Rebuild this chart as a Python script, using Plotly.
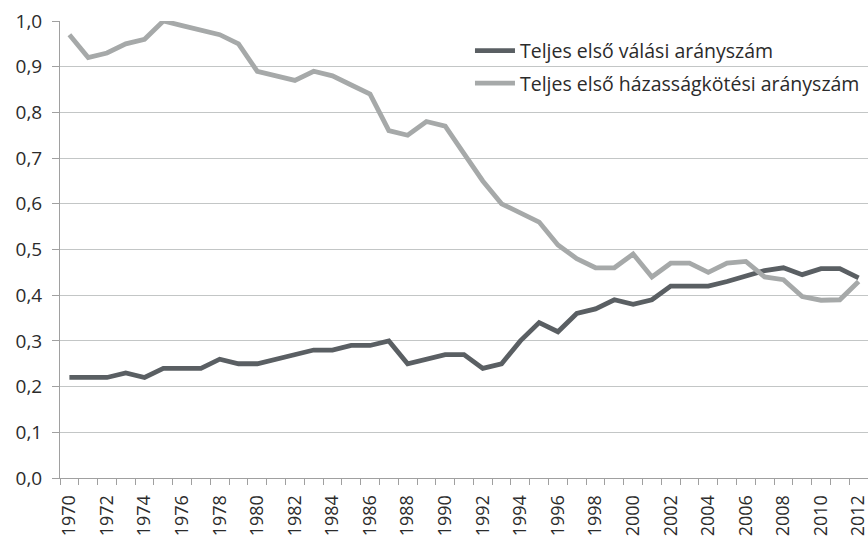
import plotly.graph_objects as go

years = list(range(1970, 2013))
valasi = [0.22, 0.22, 0.22, 0.23, 0.22, 0.24, 0.24, 0.24, 0.26, 0.25,
          0.25, 0.26, 0.27, 0.28, 0.28, 0.29, 0.29, 0.30, 0.25, 0.26,
          0.27, 0.27, 0.24, 0.25, 0.30, 0.34, 0.32, 0.36, 0.37, 0.39,
          0.38, 0.39, 0.42, 0.42, 0.42, 0.43, 0.443, 0.454, 0.46, 0.445,
          0.458, 0.458, 0.438]
hazassag = [0.97, 0.92, 0.93, 0.95, 0.96, 1.00, 0.99, 0.98, 0.97, 0.95,
            0.89, 0.88, 0.87, 0.89, 0.88, 0.86, 0.84, 0.76, 0.75, 0.78,
            0.77, 0.71, 0.65, 0.60, 0.58, 0.56, 0.51, 0.48, 0.46, 0.46,
            0.49, 0.44, 0.47, 0.47, 0.45, 0.47, 0.474, 0.44, 0.434, 0.397,
            0.389, 0.39, 0.43]
names = ["Teljes első válási arányszám", "Teljes első házasságkötési arányszám"]
yticks = [0.0, 0.1, 0.2, 0.3, 0.4, 0.5, 0.6, 0.7, 0.8, 0.9, 1.0]
xticks = list(range(1970, 2013, 2))

FONT = "Open Sans"
fig = go.Figure()
fig.add_trace(go.Scatter(x=years, y=valasi, mode="lines", name=names[0],
                         legendgroup="a", cliponaxis=False,
                         line=dict(color="#5a5f63", width=4.8)))
fig.add_trace(go.Scatter(x=years, y=hazassag, mode="lines", name=names[1],
                         legendgroup="b", cliponaxis=False,
                         line=dict(color="#a6a9a9", width=4.8)))

fig.update_layout(
    width=868, height=538,
    margin=dict(l=60, r=0, t=21, b=60, autoexpand=False),
    paper_bgcolor="white", plot_bgcolor="white",
    separators=", ",
    font=dict(family=FONT, size=18, color="#2b2b2b"),
    legend=dict(x=0.5074, y=0.977, xanchor="left", yanchor="top",
                bgcolor="rgba(0,0,0,0)", traceorder="grouped",
                tracegroupgap=4, font=dict(size=19.5, color="#2b2b2b"),
                itemwidth=40),
    showlegend=True,
)
fig.update_xaxes(
    range=[1969.5, 2012.5], tickmode="array", tickvals=xticks,
    ticktext=[str(y) for y in xticks], tickangle=-90,
    ticks="", showgrid=False, zeroline=False,
    showline=True, linecolor="#a0a0a0", linewidth=1,
    tickfont=dict(size=18, color="#2b2b2b"),
    ticklabelstandoff=9, ticklabeloverflow="allow",
    minor=dict(ticks="outside", tick0=1969.5, dtick=1, ticklen=6,
               tickcolor="#a0a0a0", showgrid=False),
)
fig.update_yaxes(
    range=[0, 1.0], tickmode="array", tickvals=yticks, tickformat=".1f",
    ticks="outside", ticklen=7, tickcolor="#a0a0a0",
    showgrid=True, gridcolor="#c3c6c6", gridwidth=1, zeroline=False,
    showline=True, linecolor="#a0a0a0", linewidth=1,
    tickfont=dict(size=19, color="#2b2b2b"),
    ticklabelstandoff=6, ticklabeloverflow="allow",
)

fig.write_html(
    "out.html",
    config={"displayModeBar": False},
    post_script="document.body.style.margin='0';document.body.style.overflow='hidden';",
)
